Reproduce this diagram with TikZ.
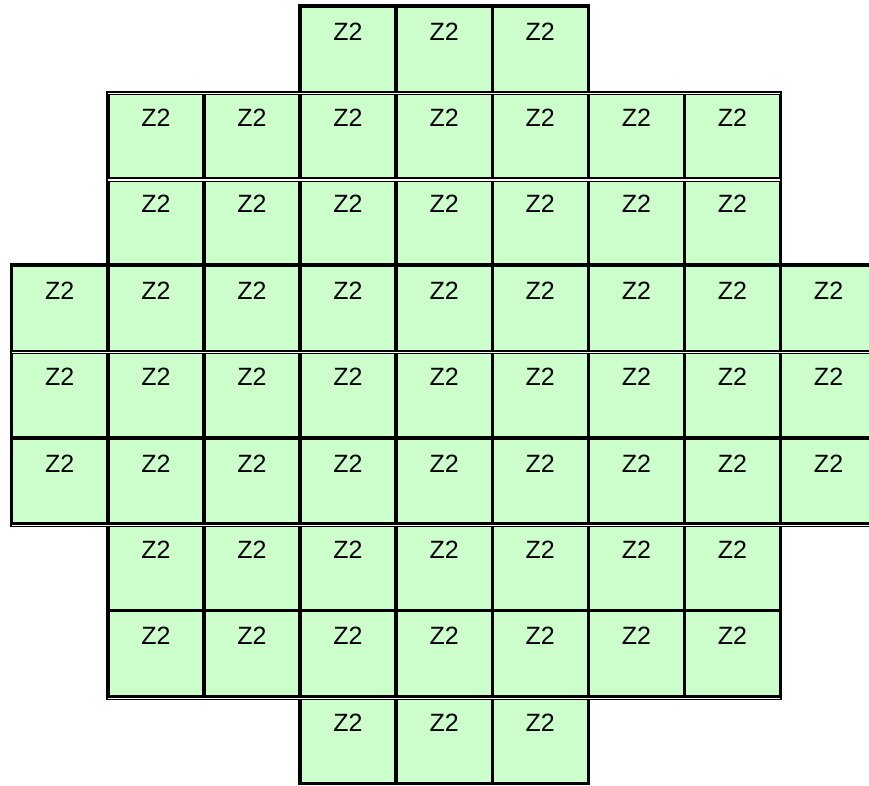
\documentclass[tikz,border=0pt]{standalone}
\usepackage{fontspec}
\setmainfont{Liberation Sans}
\definecolor{cellgreen}{HTML}{CCFFCC}
\begin{document}
\begin{tikzpicture}[x=1pt,y=-1pt,
  cellbox/.style={draw=black, line width=3.4pt, fill=cellgreen, minimum width=96.1pt, minimum height=86.36pt, inner sep=0pt, outer sep=0pt},
  celltext/.style={font=\fontsize{25}{29}\selectfont, inner sep=0pt, anchor=base},
  sepblack/.style={draw=black, line width=4.6pt},
  sepwhite/.style={draw=white, line width=1.3pt}]
\useasboundingbox (0,0) rectangle (869,785);
\foreach \r/\a/\b in {0/3/5,1/1/7,2/1/7,3/0/8,4/0/8,5/0/8,6/1/7,7/1/7,8/3/5}{
  \foreach \c in {\a,...,\b}{
    \node[cellbox] (cell-\r-\c) at ({11.7+96.1*\c+48.05},{6+86.36*\r+43.18}) {};
  }
}
\foreach \r/\a/\b in {0/3/5,1/1/7,2/1/7,3/0/8,4/0/8,5/0/8,6/1/7,7/1/7,8/3/5}{
  \foreach \c in {\a,...,\b}{
    \node[celltext] (txt-\r-\c) at ([yshift=-34.2pt]cell-\r-\c.north) {Z2};
  }
}
\foreach \r/\xa/\xb in {1/107.8/780.5,2/107.8/780.5,4/11.7/876.6,6/11.7/876.6,8/107.8/780.5}{
  \pgfmathsetmacro{\yy}{6+86.36*\r}
  \coordinate (sl-\r) at ({\xa-1.7},{\yy+0.6});
  \coordinate (sr-\r) at ({\xb+1.7},{\yy+0.6});
  \coordinate (wl-\r) at ({\xa+0.5},{\yy+1.4});
  \coordinate (wr-\r) at ({\xb-0.5},{\yy+1.4});
  \draw[sepblack] (sl-\r) -- (sr-\r);
  \draw[sepwhite] (wl-\r) -- (wr-\r);
}
\end{tikzpicture}
\end{document}
